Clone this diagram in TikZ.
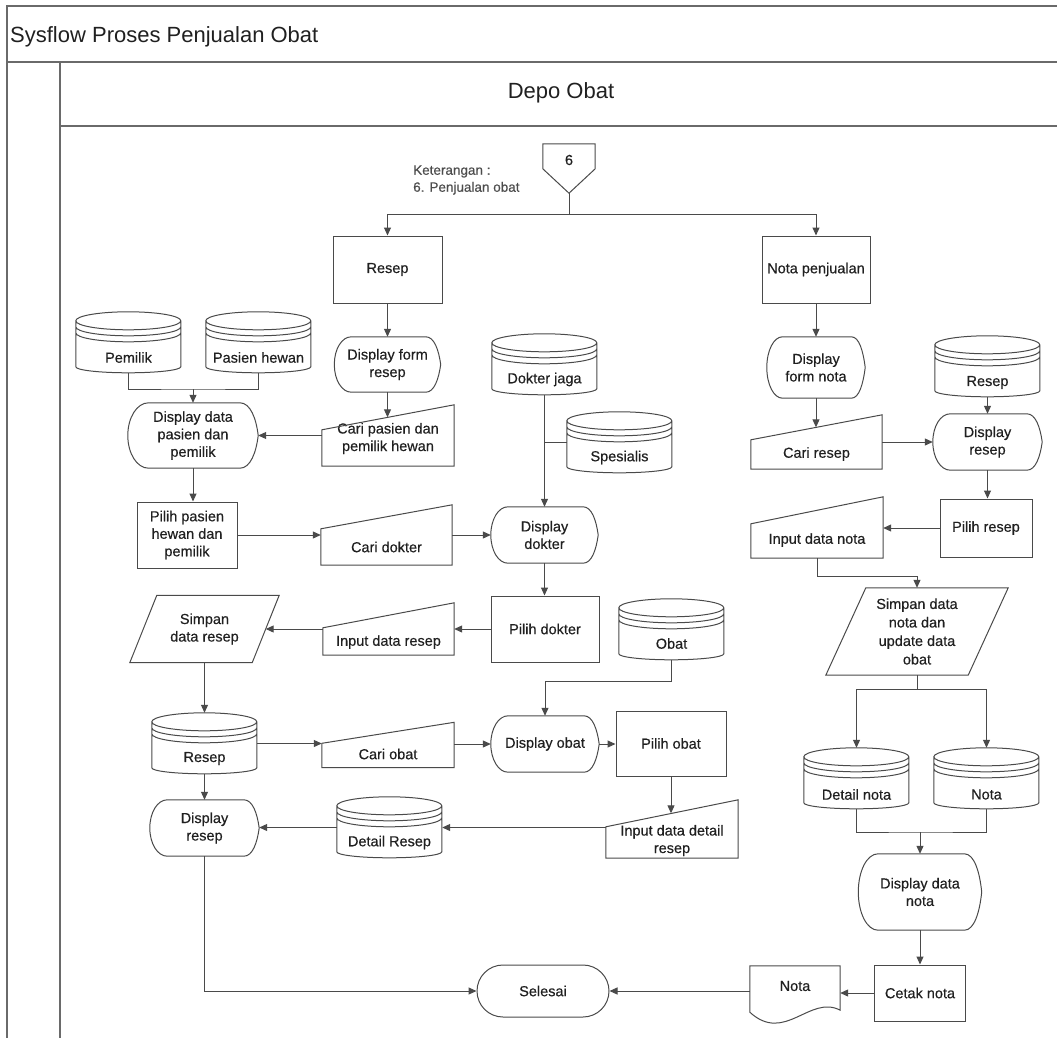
\documentclass[tikz,border=0pt]{standalone}
\usepackage{fontspec}
\setmainfont{Liberation Sans}
\newfontfamily\flowfam{Liberation Sans}[FakeBold=0.45]
\usetikzlibrary{arrows.meta,calc}
\newcommand\flowfont{\flowfam\fontsize{14.5}{17.5}\selectfont}
\newcommand\notefont{\flowfam\fontsize{13.5}{17}\selectfont}
\newcommand\headfont{\fontsize{22}{26}\selectfont}
\definecolor{lncol}{HTML}{4A4A4A}
\definecolor{txtcol}{HTML}{202020}
\definecolor{frmcol}{HTML}{6A6A6A}
\begin{document}
\begin{tikzpicture}[x=1pt,y=-1pt,
  frame/.style={draw=frmcol,line width=1.2pt},
  shp/.style={draw=lncol,line width=1pt},
  ln/.style={draw=lncol,line width=1pt},
  arr/.style={ln,-{Triangle[length=8pt,width=7pt]}},
  box/.style 2 args={inner sep=0pt,font=\flowfont,align=center,text=txtcol,
    minimum width=#1pt,minimum height=#2pt},
  proc/.style 2 args={box={#1}{#2},shp},
  store/.style={box={105}{61}},
  term/.style 2 args={box={#1}{#2},shp,rounded corners=26pt},
  every label/.style={inner sep=0pt,font=\flowfont,align=center,text=txtcol},
]
\useasboundingbox (0,0) rectangle (1057,1038);

% swimlane frame
\draw[frame] (7,1038) -- (7,6) -- (1057,6);
\draw[frame] (7,62) -- (1057,62);
\draw[frame] (60,1038) -- (60,62);
\draw[frame] (60,126) -- (1057,126);
\node[anchor=base west,inner sep=0pt,font=\headfont,text=txtcol] (title) at (10,43) {Sysflow Proses Penjualan Obat};
\node[anchor=base,inner sep=0pt,font=\headfont,text=txtcol] (lane) at (561,99) {Depo Obat};

% start connector and note
\node[box={52}{49},label={[name=off6-t,yshift=8.5pt]center:6}] (off6) at (569,168.5) {};
\node[anchor=west,inner sep=0pt,font=\notefont,align=left,text=black!70] (ket) at (413,180) {Keterangan :\\6. Penjualan obat};

% left branch: prescription
\node[proc={109}{67}] (resepdoc) at (387.5,269.5) {Resep};
\node[box={106}{55}] (dispform) at (387.5,364.5) {Display form\\resep};
\node[box={132}{61},label={[name=caripasien-t,yshift=-3pt]center:{Cari pasien dan\\pemilik hewan}}] (caripasien) at (388,435.5) {};
\node[store,label={[name=pemilik-t,yshift=-15pt]center:Pemilik}] (pemilik) at (128.5,342.5) {};
\node[store,label={[name=pasien-t,yshift=-15pt]center:Pasien hewan}] (pasien) at (258.5,342.5) {};
\node[box={130}{65}] (dispdata) at (193,435.5) {Display data\\pasien dan\\pemilik};
\node[proc={100}{66}] (pilihpasien) at (187,535) {Pilih pasien\\hewan dan\\pemilik};
\node[box={131}{60},label={[name=caridokter-t,yshift=-12pt]center:Cari dokter}] (caridokter) at (386.5,535) {};
\node[store,label={[name=dokterjaga-t,yshift=-15pt]center:Dokter jaga}] (dokterjaga) at (544.5,364.5) {};
\node[store,label={[name=spesialis-t,yshift=-15pt]center:Spesialis}] (spesialis) at (619.5,442.5) {};
\node[box={107}{56}] (dispdokter) at (544.5,535) {Display\\dokter};
\node[proc={108}{66}] (pilihdokter) at (545,629) {Pilih dokter};
\node[box={131}{52},label={[name=inputresep-t,yshift=-13pt]center:Input data resep}] (inputresep) at (388.5,629) {};
\node[box={149}{67}] (simpanresep) at (204.5,629) {Simpan\\data resep};
\node[store,label={[name=obat-t,yshift=-14pt]center:Obat}] (obat) at (671.5,629.5) {};
\node[store,label={[name=resepcyl-t,yshift=-15pt]center:Resep}] (resepcyl) at (204.5,743.5) {};
\node[box={132}{45},label={[name=cariobat-t,yshift=-9pt]center:Cari obat}] (cariobat) at (388,745) {};
\node[box={108}{56}] (dispobat) at (545,744) {Display obat};
\node[proc={110}{65}] (pilihobat) at (671,743.5) {Pilih obat};
\node[box={132}{58},label={[name=inputdetail-t,yshift=-11.5pt]center:{Input data detail\\resep}}] (inputdetail) at (672,829) {};
\node[store,label={[name=detailresep-t,yshift=-15pt]center:Detail Resep}] (detailresep) at (389.5,827.5) {};
\node[box={109}{56}] (dispresep) at (204.5,828) {Display\\resep};
\node[term={132}{52}] (selesai) at (543,991) {Selesai};

% right branch: sales note
\node[proc={108}{67}] (notapj) at (816,269.5) {Nota penjualan};
\node[box={98}{61}] (dispnota) at (816,367.5) {Display\\form nota};
\node[box={131}{54},label={[name=cariresep-t,yshift=-12pt]center:Cari resep}] (cariresep) at (816.5,442) {};
\node[store,label={[name=resepR-t,yshift=-16pt]center:Resep}] (resepR) at (987.5,366.5) {};
\node[box={109}{56}] (dispresepR) at (987.5,442) {Display\\resep};
\node[proc={92}{58}] (pilihresep) at (986,528) {Pilih resep};
\node[box={132}{61},label={[name=inputnota-t,yshift=-12.5pt]center:Input data nota}] (inputnota) at (817,527.5) {};
\node[box={182}{87},font=\flowfam\fontsize{14.5}{18.5}\selectfont] (simpannota) at (917,631.5) {Simpan data\\nota dan\\update data\\obat};
\node[store,label={[name=detailnota-t,yshift=-16pt]center:Detail nota}] (detailnota) at (856.5,778.5) {};
\node[store,label={[name=notacyl-t,yshift=-16pt]center:Nota}] (notacyl) at (986.5,778.5) {};
\node[box={123}{76}] (dispdatanota) at (920,892) {Display data\\nota};
\node[proc={91}{56}] (cetaknota) at (920,993) {Cetak nota};
\node[box={90}{56},label={[name=notadoc-t,yshift=8pt]center:Nota}] (notadoc) at (795,994) {};

% ---- symbol outlines ----
% off-page connector
\draw[shp] (off6.north west) -- (off6.north east) -- ($(off6.north east)+(0,25)$)
  -- (off6.south) -- ($(off6.north west)+(0,25)$) -- cycle;
% magnetic disk stores
\foreach \n in {pemilik,pasien,dokterjaga,spesialis,obat,resepcyl,detailresep,resepR,detailnota,notacyl}{
  \draw[shp,shift={(\n.north west)}]
    (52.5,9) ellipse [x radius=52.5,y radius=9]
    (0,15) .. controls (0,20) and (23.5,24) .. (52.5,24) .. controls (81.5,24) and (105,20) .. (105,15)
    (0,21) .. controls (0,26) and (23.5,30) .. (52.5,30) .. controls (81.5,30) and (105,26) .. (105,21)
    (0,9) -- (0,55) .. controls (0,58.3) and (23.5,61) .. (52.5,61)
      .. controls (81.5,61) and (105,58.3) .. (105,55) -- (105,9);
}
% manual input
\foreach \n/\d in {caripasien/25,caridokter/24,inputresep/25,cariobat/21,inputdetail/27,cariresep/25,inputnota/27}{
  \draw[shp] (\n.south west) -- (\n.south east) -- (\n.north east)
    -- ($(\n.north west)+(0,\d)$) -- cycle;
}
% data (parallelogram)
\foreach \n/\s in {simpanresep/27,simpannota/40}{
  \draw[shp] (\n.south west) -- ($(\n.south east)+(-\s,0)$) -- (\n.north east)
    -- ($(\n.north west)+(\s,0)$) -- cycle;
}
% display
\foreach \n in {dispform,dispdata,dispdokter,dispobat,dispresep,dispnota,dispresepR,dispdatanota}{
  \draw[shp]
    ($(\n.north west)!0.16!(\n.north east)$) -- ($(\n.north west)!0.86!(\n.north east)$)
    .. controls ($(\n.north west)!0.94!(\n.north east)$) and ($(\n.east)!0.52!(\n.north east)+(-2,0)$) .. (\n.east)
    .. controls ($(\n.east)!0.52!(\n.south east)+(-2,0)$) and ($(\n.south west)!0.94!(\n.south east)$) .. ($(\n.south west)!0.86!(\n.south east)$)
    -- ($(\n.south west)!0.16!(\n.south east)$)
    .. controls ($(\n.south west)!0.07!(\n.south east)$) and ($(\n.west)!0.552!(\n.south west)$) .. (\n.west)
    .. controls ($(\n.west)!0.552!(\n.north west)$) and ($(\n.north west)!0.07!(\n.north east)$) .. ($(\n.north west)!0.16!(\n.north east)$)
    -- cycle;
}
% document
\draw[shp] ($(notadoc.south west)+(0,-10)$) -- (notadoc.north west) -- (notadoc.north east)
  -- ($(notadoc.south east)+(0,-12)$)
  .. controls ($(notadoc.south west)+(60,-28)$) and ($(notadoc.south west)+(35,22)$) .. ($(notadoc.south west)+(0,-10)$)
  -- cycle;

% ---- connectors ----
\coordinate (j6) at (569,214);
\draw[ln] (off6.south) -- (j6);
\draw[arr] (j6) -| (resepdoc.north);
\draw[arr] (j6) -| (notapj.north);

\draw[arr] (resepdoc) -- (dispform);
\coordinate (caripasien-in) at ($(caripasien.north)+(0,12.5)$);
\draw[arr] (dispform.south) -- (dispform.south |- caripasien-in);
\draw[arr] (caripasien.west) -- (caripasien.west -| dispdata.east);
\coordinate (jpp) at (193,389);
\draw[ln] (pemilik.south) |- (jpp) -| (pasien.south);
\draw[arr] (jpp) -- (dispdata.north);
\draw[arr] (dispdata.south) -- (dispdata.south |- pilihpasien.north);
\draw[arr] (pilihpasien.east) -- (pilihpasien.east -| caridokter.west);
\draw[arr] (caridokter.east) -- (caridokter.east -| dispdokter.west);
\draw[arr] (dokterjaga.south) -- (dispdokter.north);
\draw[ln] (spesialis.west) -- (spesialis.west -| dokterjaga.south);
\draw[arr] (dispdokter.south) -- (dispdokter.south |- pilihdokter.north);
\draw[arr] (pilihdokter.west) -- (pilihdokter.west -| inputresep.east);
\coordinate (simpanresep-in) at ($(simpanresep.east)+(-13.5,0)$);
\draw[arr] (inputresep.west) -- (simpanresep-in);
\draw[arr] (simpanresep.south) -- (resepcyl.north);
\draw[arr] (resepcyl.east) -- (resepcyl.east -| cariobat.west);
\draw[arr] (dispobat.west -| cariobat.east) -- (dispobat.west);
\coordinate (jobat) at (545,681);
\draw[arr] (obat.south) |- (jobat) -- (dispobat.north);
\draw[arr] (dispobat.east) -- (dispobat.east -| pilihobat.west);
\coordinate (inputdetail-in) at ($(inputdetail.north)+(0,13.5)$);
\draw[arr] (pilihobat.south) -- (pilihobat.south |- inputdetail-in);
\draw[arr] (inputdetail.west |- detailresep.east) -- (detailresep.east);
\draw[arr] (resepcyl.south) -- (dispresep.north);
\draw[arr] (detailresep.west) -- (detailresep.west -| dispresep.east);
\draw[arr] (dispresep.south) |- (selesai.west);

\draw[arr] (notapj) -- (dispnota);
\coordinate (cariresep-in) at ($(cariresep.north)+(0,12.5)$);
\draw[arr] (dispnota.south) -- (dispnota.south |- cariresep-in);
\draw[arr] (resepR) -- (dispresepR);
\draw[arr] (cariresep.east) -- (cariresep.east -| dispresepR.west);
\draw[arr] (dispresepR.south) -- (dispresepR.south |- pilihresep.north);
\draw[arr] (pilihresep.west) -- (pilihresep.west -| inputnota.east);
\coordinate (jnota) at (917,576);
\draw[arr] (inputnota.south) |- (jnota) -- (simpannota.north);
\coordinate (jsplit) at (917,689);
\draw[ln] (simpannota.south) -- (jsplit);
\draw[arr] (jsplit) -| (detailnota.north);
\draw[arr] (jsplit) -| (notacyl.north);
\coordinate (jmerge) at (920,832);
\draw[ln] (detailnota.south) |- (jmerge) -| (notacyl.south);
\draw[arr] (jmerge) -- (dispdatanota.north);
\draw[arr] (dispdatanota.south) -- (dispdatanota.south |- cetaknota.north);
\draw[arr] (cetaknota.west) -- (cetaknota.west -| notadoc.east);
\draw[arr] (notadoc.west |- selesai.east) -- (selesai.east);
\end{tikzpicture}
\end{document}
